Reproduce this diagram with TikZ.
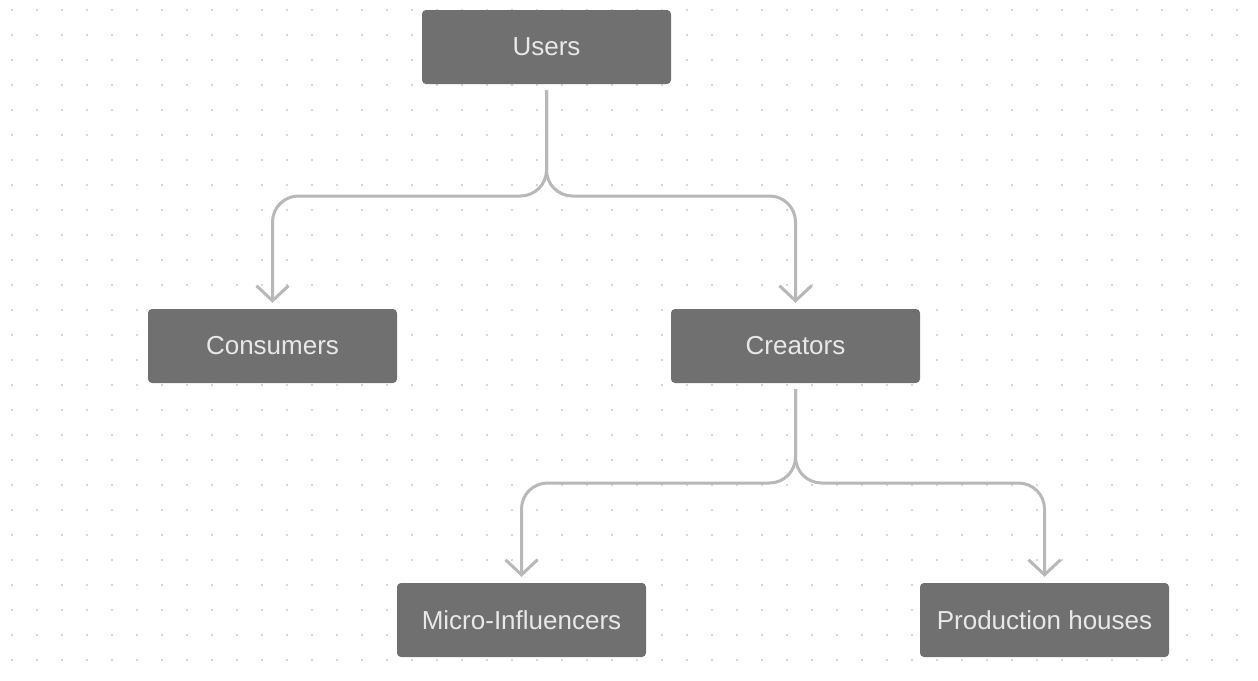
\documentclass[tikz,border=0pt]{standalone}
\usepackage{fontspec}
\setmainfont{Liberation Sans}
\usetikzlibrary{arrows.meta,calc}
\definecolor{boxfill}{HTML}{707070}
\definecolor{boxtext}{HTML}{E8E8E8}
\definecolor{connc}{HTML}{B8B8B8}
\definecolor{dotc}{HTML}{C8C8C8}
\tikzset{
  box/.style={fill=boxfill, draw=none, rounded corners=4pt, minimum width=249pt, minimum height=74pt,
    inner sep=0pt, text=boxtext, font=\fontsize{26pt}{30pt}\selectfont},
  conn/.style={draw=connc, line width=3pt, rounded corners=26pt,
    -{Straight Barb[length=15pt,width=32pt,line width=3pt]}},
}
\begin{document}
\begin{tikzpicture}[x=1pt,y=-1pt]
\useasboundingbox (0,0) rectangle (1258,680);
\fill[white] (0,0) rectangle (1258,680);
\foreach \i in {0,...,50} {
  \foreach \j in {0,...,27} {
    \fill[dotc] ({12+25*\i},{10+25*\j}) circle (1.1pt);
  }
}
\node[box] (users) at (546.5,47) {Users};
\node[box] (consumers) at (272.5,346) {Consumers};
\node[box] (creators) at (795.5,346) {Creators};
\node[box] (micro) at (521.5,620) {Micro-Influencers};
\node[box] (prod) at (1044.5,620) {Production houses};
\coordinate (ub) at (546.5,196);
\coordinate (cb) at (795.5,483);
\draw[conn] ([yshift=-6pt]users.south) |- (ub -| consumers.north) -- ([yshift=6pt]consumers.north);
\draw[conn] ([yshift=-6pt]users.south) |- (ub -| creators.north) -- ([yshift=6pt]creators.north);
\draw[conn] ([yshift=-6pt]creators.south) |- (cb -| micro.north) -- ([yshift=6pt]micro.north);
\draw[conn] ([yshift=-6pt]creators.south) |- (cb -| prod.north) -- ([yshift=6pt]prod.north);
\end{tikzpicture}
\end{document}
